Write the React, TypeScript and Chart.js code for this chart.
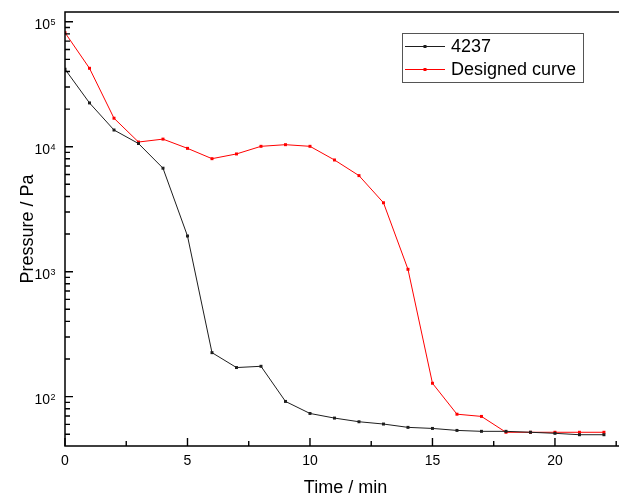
import React, { useEffect, useRef } from "react";
import { Chart, registerables } from "chart.js";

Chart.register(...registerables);

const TIME = [0, 1, 2, 3, 4, 5, 6, 7, 8, 9, 10, 11, 12, 13, 14, 15, 16, 17, 18, 19, 20, 21, 22];
const SERIES_4237 = [41700, 22400, 13600, 10600, 6730, 1930, 225, 171, 175, 91.6, 73.4, 67.4, 63, 60.4, 56.8, 55.7, 53.7, 52.8, 52.8, 51.9, 50.9, 49.6, 49.6];
const SERIES_DESIGNED = [81700, 42400, 16900, 10900, 11500, 9700, 8020, 8750, 10070, 10380, 10070, 7830, 5870, 3560, 1045, 128, 72.4, 69.5, 51.9, 51.9, 51.9, 51.9, 51.9];
const SERIES_LABELS = ["4237", "Designed curve"];
const SERIES_COLORS = ["#1e1e1e", "#ff0000"];
const X_MAJOR_TICKS = [0, 5, 10, 15, 20];
const X_MINOR_TICKS = [2.5, 7.5, 12.5, 17.5, 22.5];
const Y_DECADES = [2, 3, 4, 5];
const Y_MINOR_MULT = [2, 3, 4, 5, 6, 7, 8, 9];
const X_TITLE = "Time / min";
const Y_TITLE = "Pressure / Pa";
const X_MIN = 0;
const X_MAX = 22.9;
const Y_MIN = 40.3;
const Y_MAX = 119600;

const FONT = "'Liberation Sans', Arial, sans-serif";

const axesPlugin = {
  id: "axesPlugin",
  afterDraw(chart: any) {
    const ctx = chart.ctx as CanvasRenderingContext2D;
    const { left, right, top, bottom } = chart.chartArea;
    const xs = chart.scales.x;
    const ys = chart.scales.y;
    ctx.save();
    ctx.strokeStyle = "#000";
    ctx.fillStyle = "#000";
    ctx.lineWidth = 1.5;
    ctx.beginPath();
    ctx.moveTo(left, top);
    ctx.lineTo(left, bottom);
    ctx.moveTo(left - 0.75, bottom);
    ctx.lineTo(right + 10, bottom);
    ctx.moveTo(left - 0.75, top);
    ctx.lineTo(right + 10, top);
    ctx.stroke();

    ctx.lineWidth = 1.4;
    ctx.beginPath();
    const decs = [1, ...Y_DECADES];
    decs.forEach((d) => {
      const base = Math.pow(10, d);
      if (base >= Y_MIN && base <= Y_MAX) {
        const py = ys.getPixelForValue(base);
        ctx.moveTo(left, py);
        ctx.lineTo(left + 8, py);
      }
      Y_MINOR_MULT.forEach((m) => {
        const v = m * base;
        if (v >= Y_MIN && v <= Y_MAX) {
          const py = ys.getPixelForValue(v);
          ctx.moveTo(left, py);
          ctx.lineTo(left + 5, py);
        }
      });
    });
    X_MAJOR_TICKS.forEach((v) => {
      const px = xs.getPixelForValue(v);
      ctx.moveTo(px, bottom);
      ctx.lineTo(px, bottom - 8);
    });
    X_MINOR_TICKS.forEach((v) => {
      const px = xs.getPixelForValue(v);
      ctx.moveTo(px, bottom);
      ctx.lineTo(px, bottom - 5);
    });
    ctx.stroke();

    Y_DECADES.forEach((d) => {
      const py = ys.getPixelForValue(Math.pow(10, d));
      ctx.font = `14px ${FONT}`;
      ctx.textAlign = "right";
      ctx.textBaseline = "alphabetic";
      ctx.fillText("10", 50, py + 7.5);
      ctx.font = `9px ${FONT}`;
      ctx.textAlign = "left";
      ctx.fillText(String(d), 50.5, py + 3);
    });

    ctx.font = `14px ${FONT}`;
    ctx.textAlign = "center";
    ctx.textBaseline = "middle";
    X_MAJOR_TICKS.forEach((v) => {
      ctx.fillText(String(v), xs.getPixelForValue(v), bottom + 15);
    });

    ctx.font = `18px ${FONT}`;
    ctx.textAlign = "center";
    ctx.textBaseline = "middle";
    ctx.fillText(X_TITLE, (left + right) / 2, bottom + 42);
    ctx.save();
    ctx.translate(28, (top + bottom) / 2);
    ctx.rotate(-Math.PI / 2);
    ctx.fillText(Y_TITLE, 0, 0);
    ctx.restore();

    const lx = 402.5, ly = 33.5, lw = 181, lh = 49;
    ctx.fillStyle = "#fff";
    ctx.fillRect(lx, ly, lw, lh);
    ctx.strokeStyle = "#555";
    ctx.lineWidth = 1;
    ctx.strokeRect(lx, ly, lw, lh);
    const rows = [46, 69];
    chart.data.datasets.forEach((ds: any, i: number) => {
      const cy = rows[i];
      ctx.strokeStyle = ds.borderColor;
      ctx.lineWidth = 1;
      ctx.beginPath();
      ctx.moveTo(405, cy + 0.5);
      ctx.lineTo(445, cy + 0.5);
      ctx.stroke();
      ctx.fillStyle = ds.borderColor;
      ctx.fillRect(423.5, cy - 1, 3, 3);
      ctx.fillStyle = "#000";
      ctx.font = `18px ${FONT}`;
      ctx.textAlign = "left";
      ctx.textBaseline = "middle";
      ctx.fillText(ds.label, 451, cy + 1);
    });
    ctx.restore();
  },
};

export default function App() {
  const ref = useRef<HTMLCanvasElement | null>(null);
  useEffect(() => {
    if (!ref.current) return;
    const mk = (vals: number[]) => TIME.map((t, i) => ({ x: t, y: vals[i] }));
    const chart = new Chart(ref.current, {
      type: "line",
      data: {
        datasets: [
          {
            label: SERIES_LABELS[0],
            data: mk(SERIES_4237),
            borderColor: SERIES_COLORS[0],
            backgroundColor: SERIES_COLORS[0],
            borderWidth: 1,
            pointStyle: "rect",
            pointRadius: 2.1,
            pointBorderWidth: 0,
            tension: 0,
          },
          {
            label: SERIES_LABELS[1],
            data: mk(SERIES_DESIGNED),
            borderColor: SERIES_COLORS[1],
            backgroundColor: SERIES_COLORS[1],
            borderWidth: 1,
            pointStyle: "rect",
            pointRadius: 2.1,
            pointBorderWidth: 0,
            tension: 0,
          },
        ],
      },
      options: {
        responsive: false,
        animation: false,
        layout: { padding: { left: 65, top: 12, right: 4, bottom: 50 } },
        plugins: { legend: { display: false }, tooltip: { enabled: false } },
        scales: {
          x: { type: "linear", min: X_MIN, max: X_MAX, display: false },
          y: { type: "logarithmic", min: Y_MIN, max: Y_MAX, display: false },
        },
      },
      plugins: [axesPlugin],
    });
    return () => chart.destroy();
  }, []);
  return (
    <div style={{ position: "absolute", left: 0, top: 0, width: 619, height: 496, overflow: "hidden", background: "#fff" }}>
      <canvas ref={ref} width={630} height={496} style={{ display: "block" }} />
    </div>
  );
}
